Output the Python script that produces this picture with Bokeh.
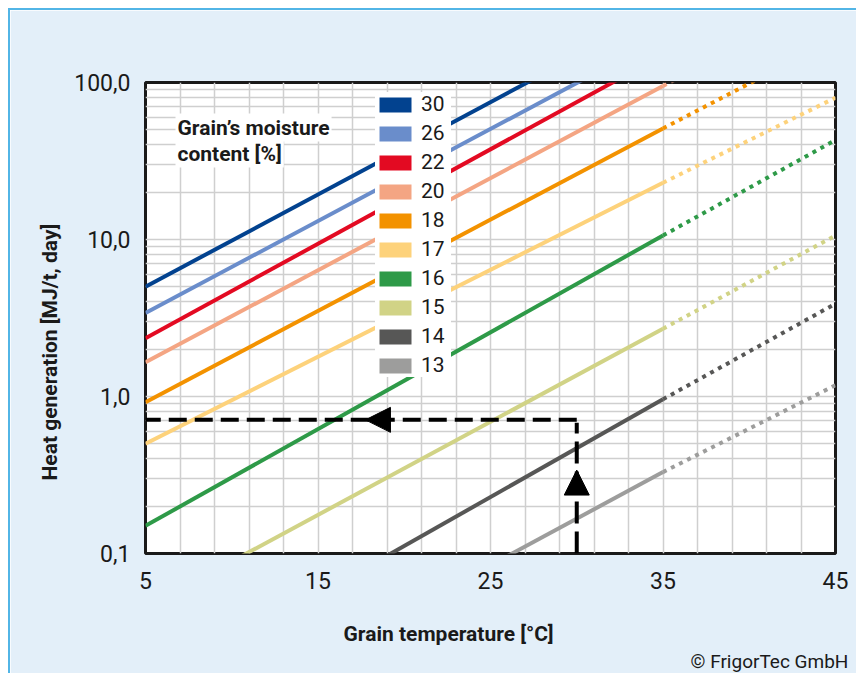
from bokeh.plotting import figure
from bokeh.models import (FixedTicker, CustomJSTickFormatter, Legend, LegendItem,
                          Label, Arrow, NormalHead, Range1d, Title)
from bokeh.embed import file_html
from bokeh.resources import INLINE

# ---------------- data ----------------
moisture = ["30", "26", "22", "20", "18", "17", "16", "15", "14", "13"]
colors = ["#02428F", "#6A8DCB", "#E30A22", "#F4A583", "#F39200",
          "#FDD27B", "#2E9A48", "#D1D386", "#575756", "#9D9D9C"]
temp_solid = [5, 35]      # measured range (solid)
temp_dotted = [35, 45]    # extrapolated range (dotted)
heat_at_5 = [5.0, 3.4, 2.35, 1.65, 0.92, 0.50, 0.15, 0.045, 0.013, 0.0055]
heat_at_35 = [290, 195, 150, 95, 51, 23, 10.6, 2.7, 0.96, 0.33]
heat_at_45 = [1100, 760, 600, 370, 190, 80, 43, 10.6, 3.9, 1.18]

x_tick_values = [5, 15, 25, 35, 45]
y_tick_values = [0.1, 1, 10, 100]
x_grid_values = list(range(5, 46, 2))
y_grid_values = [k * 10 ** e for e in (-1, 0, 1) for k in range(1, 10)] + [100]

example_temp = 30
example_heat = 0.71
arrow_up_heat = (0.2, 0.34)      # arrowhead on the vertical guide
arrow_left_temp = (20.0, 17.75)  # arrowhead on the horizontal guide

FONT = "Roboto"
TXT = "#1A1A1A"

p = figure(width=848, height=665, output_backend="svg", toolbar_location=None,
           y_axis_type="log", x_range=Range1d(5, 45), y_range=Range1d(0.1, 100),
           min_border_left=135, min_border_right=23, min_border_top=72,
           min_border_bottom=122,
           styles={"margin-top": "8px", "margin-left": "8px",
                   "border-top": "2px solid #52B5E6", "border-left": "2px solid #52B5E6"})
p.border_fill_color = "#E3EFF9"
p.background_fill_color = "white"
p.outline_line_color = TXT
p.outline_line_width = 3

# grids
p.xgrid.ticker = FixedTicker(ticks=x_grid_values)
p.ygrid.ticker = FixedTicker(ticks=y_grid_values)
for g in (p.xgrid, p.ygrid):
    g.grid_line_color = "#CFCFCF"
    g.grid_line_width = 1.5

# axes
p.xaxis.ticker = FixedTicker(ticks=x_tick_values)
p.yaxis.ticker = FixedTicker(ticks=y_tick_values)
p.yaxis.formatter = CustomJSTickFormatter(code="return tick.toFixed(1).replace('.', ',');")
for ax in (p.xaxis, p.yaxis):
    ax.axis_line_color = None
    ax.major_tick_line_color = None
    ax.minor_tick_line_color = None
    ax.major_label_text_font = FONT
    ax.major_label_text_font_size = "23px"
    ax.major_label_text_color = TXT
p.xaxis.major_label_standoff = 12
p.yaxis.major_label_standoff = 9

# axis titles and credit as side titles
p.add_layout(Title(text="Grain temperature [°C]", align="left", offset=198, standoff=56,
                   vertical_align="bottom",
                   text_font=FONT, text_font_size="21px", text_font_style="bold",
                   text_color=TXT), "below")
p.add_layout(Title(text="© FrigorTec GmbH", align="left", offset=545, standoff=-48,
                   vertical_align="top",
                   text_font=FONT, text_font_size="19px", text_font_style="normal",
                   text_color=TXT), "below")
p.add_layout(Title(text="Heat generation [MJ/t, day]", align="left", offset=73,
                   standoff=20, text_font=FONT, text_font_size="21px",
                   text_font_style="bold", text_color=TXT), "left")

# series lines
for m, c, h5, h35, h45 in zip(moisture, colors, heat_at_5, heat_at_35, heat_at_45):
    p.line(temp_solid, [h5, h35], line_color=c, line_width=4)
    p.line(temp_dotted, [h35, h45], line_color=c, line_width=4, line_dash="4 5")

# example reading (dashed guide with arrows)
p.line([example_temp, example_temp], [0.1, example_heat * 0.96], line_color="black",
       line_width=4, line_dash="22 8")
p.line([example_temp, 5], [example_heat, example_heat], line_color="black",
       line_width=4, line_dash="18 8")
p.add_layout(Arrow(end=NormalHead(size=25, fill_color="black", line_color="black"),
                   x_start=example_temp, x_end=example_temp,
                   y_start=arrow_up_heat[0], y_end=arrow_up_heat[1], line_alpha=0))
p.add_layout(Arrow(end=NormalHead(size=25, fill_color="black", line_color="black"),
                   x_start=arrow_left_temp[0], x_end=arrow_left_temp[1],
                   y_start=example_heat, y_end=example_heat, line_alpha=0))

# legend with colour swatches (hidden quads only supply the legend glyphs)
items = []
for m, c, h5, h35 in zip(moisture, colors, heat_at_5, heat_at_35):
    r = p.quad(left=[temp_solid[0]], right=[temp_solid[1]], bottom=[h5], top=[h35],
               fill_color=c, line_color=None, visible=False)
    items.append(LegendItem(label=m, renderers=[r]))
legend = Legend(items=items, location=(230, 176), margin=0, padding=6, spacing=5,
                glyph_width=40, glyph_height=19, label_height=19, label_standoff=6,
                label_width=30,
                label_text_font=FONT, label_text_font_size="21px", label_text_color=TXT,
                background_fill_color="white", background_fill_alpha=1.0,
                border_line_color=None, inactive_fill_alpha=0.0)
p.add_layout(legend, "center")

# in-plot caption
p.add_layout(Label(x=30, y=426, x_units="screen", y_units="screen", text="Grain’s moisture",
                   text_font=FONT, text_font_size="21px", text_font_style="bold",
                   text_color=TXT, text_baseline="middle",
                   background_fill_color="white", padding=2))
p.add_layout(Label(x=30, y=400, x_units="screen", y_units="screen", text="content [%]",
                   text_font=FONT, text_font_size="21px", text_font_style="bold",
                   text_color=TXT, text_baseline="middle",
                   background_fill_color="white", padding=2))

open("out.html", "w").write(file_html(p, INLINE))
